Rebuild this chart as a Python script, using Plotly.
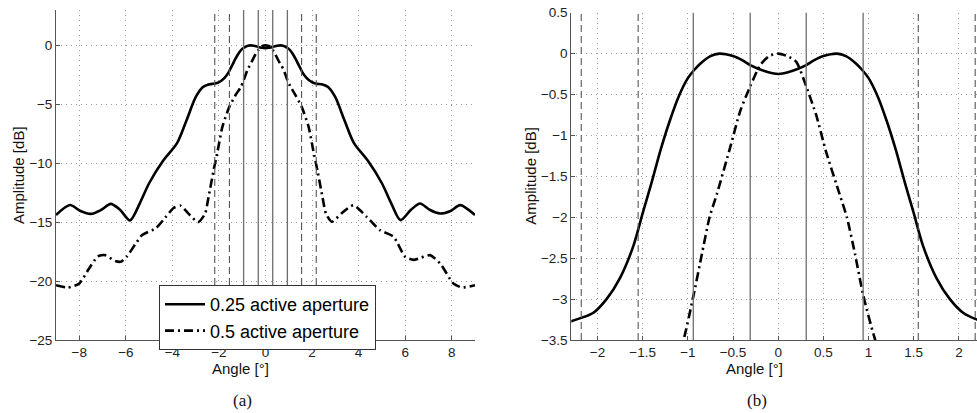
import plotly.graph_objects as go

# ---------------- data ----------------
angle_025 = [-9.0, -8.4, -7.95, -7.5, -7.05, -6.65, -6.25, -5.82, -5.4, -5.0, -4.4, -3.8,
             -3.4, -3.0, -2.7, -2.45, -2.29, -2.05, -1.9, -1.75, -1.6, -1.5, -1.4, -1.3,
             -1.2, -1.1, -1.0, -0.93, -0.86, -0.75, -0.65, -0.5, -0.4, -0.31, -0.16, 0.0,
             0.16, 0.31, 0.4, 0.5, 0.65, 0.75, 0.86, 0.93, 1.0, 1.1, 1.2, 1.3, 1.4, 1.5,
             1.6, 1.75, 1.9, 2.05, 2.2, 2.45, 2.7, 3.0, 3.4, 3.8, 4.4, 5.0, 5.4, 5.8, 6.25,
             6.64, 7.05, 7.5, 7.95, 8.36, 9.0]
amp_025 = [-14.4, -13.55, -14.05, -14.3, -13.95, -13.45, -13.95, -14.85, -13.4, -11.7, -9.8, -8.3,
           -6.4, -4.4, -3.55, -3.32, -3.27, -3.17, -3.0, -2.74, -2.34, -1.95, -1.57, -1.17,
           -0.82, -0.52, -0.3, -0.2, -0.12, -0.03, 0.0, -0.03, -0.08, -0.14, -0.21, -0.25,
           -0.21, -0.14, -0.08, -0.03, 0.0, -0.03, -0.12, -0.2, -0.3, -0.52, -0.82, -1.17, -1.57, -1.95,
           -2.34, -2.74, -3.0, -3.17, -3.25, -3.32, -3.55, -4.4, -6.4, -8.3, -9.8, -11.7, -13.4, -14.83, -13.95,
           -13.42, -13.95, -14.27, -14.05, -13.56, -14.4]

angle_05 = [-9.0, -8.5, -8.0, -7.6, -7.2, -6.9, -6.45, -6.2, -5.95, -5.6, -5.3, -4.7, -4.3,
            -3.95, -3.65, -3.3, -2.9, -2.6, -2.45, -2.25, -2.05, -1.85, -1.55, -1.25, -1.06,
            -0.94, -0.85, -0.76, -0.68, -0.53, -0.42, -0.31, -0.2, -0.1, 0.0, 0.1, 0.2, 0.31,
            0.42, 0.53, 0.68, 0.76, 0.85, 0.94, 1.06, 1.25, 1.55, 1.85, 2.05, 2.25, 2.45, 2.6,
            2.85, 3.3, 3.78, 4.35, 4.92, 5.5, 6.0, 6.36, 6.7, 7.07, 7.5, 8.07, 8.43, 8.86, 9.0]
amp_05 = [-20.35, -20.55, -20.2, -19.0, -17.9, -17.8, -18.3, -18.35, -17.9, -16.9, -16.1, -15.5, -14.6,
          -13.8, -13.6, -14.3, -15.0, -14.3, -12.9, -10.8, -8.9, -6.9, -5.2, -4.1, -3.55,
          -2.97, -2.48, -2.0, -1.72, -1.14, -0.7, -0.4, -0.14, -0.03, 0.0, -0.03, -0.1, -0.4,
          -0.75, -1.2, -1.72, -2.0, -2.45, -2.95, -3.45, -4.1, -5.2, -6.9, -8.9, -10.8, -12.9, -14.3,
          -14.97, -14.2, -13.56, -14.56, -15.68, -16.24, -17.94, -18.2, -18.0, -17.8, -18.5, -20.2, -20.54, -20.42, -20.35]

solid_marks = [-0.94, -0.31, 0.31, 0.94]
dashed_marks = [-2.18, -1.55, 1.55, 2.18]

ticks_a_x = [-8, -6, -4, -2, 0, 2, 4, 6, 8]
ticks_a_y = [-25, -20, -15, -10, -5, 0]
ticks_b_x = [-2, -1.5, -1, -0.5, 0, 0.5, 1, 1.5, 2]
ticks_b_y = [-3.5, -3, -2.5, -2, -1.5, -1, -0.5, 0, 0.5]

names = ["0.25 active aperture", "0.5 active aperture"]

# ---------------- figure ----------------
W, H = 977, 413
FONT = "Liberation Sans, Arial, sans-serif"
fig = go.Figure()

for ax, show in (("", True), ("2", False)):
    fig.add_trace(go.Scatter(x=angle_025, y=amp_025, mode="lines", name=names[0],
                             line=dict(color="black", width=2.6, shape="spline", smoothing=0.8),
                             xaxis="x" + ax, yaxis="y" + ax, showlegend=show))
    fig.add_trace(go.Scatter(x=angle_05, y=amp_05, mode="lines", name=names[1],
                             line=dict(color="black", width=2.6, dash="9px,4px,2px,4px",
                                       shape="spline", smoothing=0.6),
                             xaxis="x" + ax, yaxis="y" + ax, showlegend=show))

shapes = []
for xr, yr in (("x", "y domain"), ("x2", "y2 domain")):
    for v in solid_marks:
        shapes.append(dict(type="line", xref=xr, yref=yr, x0=v, x1=v, y0=0, y1=1,
                           line=dict(color="#6e6e6e", width=1.3), layer="above"))
    for v in dashed_marks:
        shapes.append(dict(type="line", xref=xr, yref=yr, x0=v, x1=v, y0=0, y1=1,
                           line=dict(color="#555555", width=1.1, dash="7px,4px"), layer="above"))

axis_common = dict(showgrid=True, gridcolor="#9a9a9a", griddash="1px,4px", gridwidth=1,
                   showline=True, linecolor="#555555", linewidth=1, ticks="inside", ticklen=4,
                   tickcolor="#555555", zeroline=False, mirror=False, automargin=False,
                   tickfont=dict(family=FONT, size=13.5, color="#222222"))

ydom = [1 - 340 / H, 1 - 10 / H]
ydom2 = [1 - 340 / H, 1 - 12.7 / H]

fig.update_layout(
    width=W, height=H, margin=dict(l=0, r=0, t=0, b=0),
    paper_bgcolor="white", plot_bgcolor="white",
    xaxis=dict(domain=[56 / W, 475 / W], range=[-9, 9], tickvals=ticks_a_x, anchor="y", **axis_common),
    yaxis=dict(domain=ydom, range=[-25, 3], tickvals=ticks_a_y, anchor="x", **axis_common),
    xaxis2=dict(domain=[571.3 / W, 1.0], range=[-2.29, 2.2], tickvals=ticks_b_x, anchor="y2", **axis_common),
    yaxis2=dict(domain=ydom2, range=[-3.5, 0.5], tickvals=ticks_b_y, anchor="x2", **axis_common),
    shapes=shapes,
    showlegend=True,
    legend=dict(x=159 / W, y=1 - 285 / H, xanchor="left", yanchor="top",
                bgcolor="white", bordercolor="#333333", borderwidth=1,
                font=dict(family=FONT, size=18, color="black"), tracegroupgap=0,
                itemwidth=40),
)

ann = [
    dict(text="Amplitude [dB]", x=18 / W, y=1 - 175 / H, textangle=-90),
    dict(text="Amplitude [dB]", x=529.7 / W, y=1 - 176 / H, textangle=-90),
    dict(text="Angle [°]", x=240 / W, y=1 - 368 / H, textangle=0),
    dict(text="Angle [°]", x=754.7 / W, y=1 - 368 / H, textangle=0),
]
for a in ann:
    fig.add_annotation(xref="paper", yref="paper", showarrow=False, xanchor="center", yanchor="middle",
                       font=dict(family=FONT, size=15, color="#111111"), **a)
for t, xpx in (("(a)", 242), ("(b)", 757)):
    fig.add_annotation(text=t, xref="paper", yref="paper", x=xpx / W, y=1 - 400 / H, showarrow=False,
                       xanchor="center", yanchor="middle",
                       font=dict(family="Liberation Serif, Times New Roman, serif", size=17, color="#111111"))

fig.write_html("out.html", config={"displayModeBar": False},
               post_script="document.body.style.margin='0';document.body.style.overflow='hidden';")
